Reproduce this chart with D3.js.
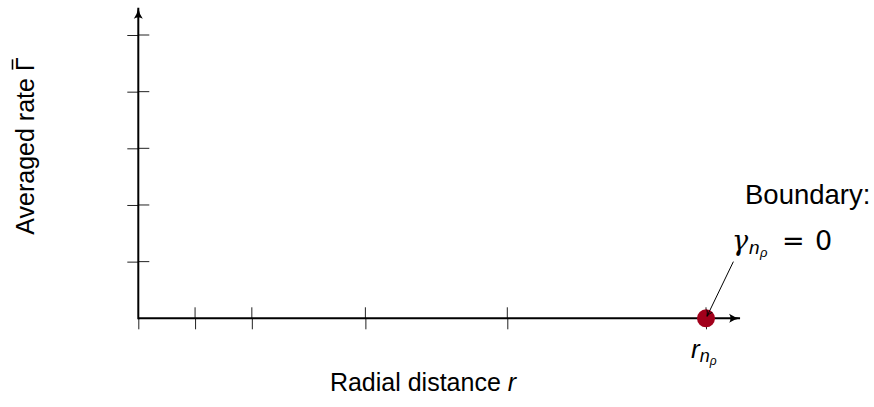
<!DOCTYPE html>
<html>
<head>
<meta charset="utf-8">
<script src="https://cdn.jsdelivr.net/npm/d3@7"></script>
<style>
  html, body { margin: 0; padding: 0; background: #fff; }
  svg { display: block; }
  text { font-family: "Liberation Sans", Arial, Helvetica, sans-serif; fill: #000; }
</style>
</head>
<body>
<svg id="chart" width="874" height="407"></svg>
<script>
// ---- data ----
const xTicks = [0, 1, 2, 4, 6.5, 10];
const yTicks = [1, 2, 3, 4, 5];
const xDomain = [0, 10.6];
const yDomain = [0, 5.5];
const boundaryPoint = [{ x: 10, y: 0 }];
const annotationFrom = { x: 10.5, y: 1.0 };
const xLabel = "Radial distance ";
const xLabelVar = "r";
const yLabel = "Averaged rate \u0393";
const boundaryText = "Boundary:";

const svg = d3.select("#chart");
const x = d3.scaleLinear().domain([0, 10]).range([138.3, 706]);
const y = d3.scaleLinear().domain([0, 5]).range([318.3, 35]);

const defs = svg.append("defs");
defs.append("marker").attr("id", "axArrow")
  .attr("viewBox", "0 0 12 10").attr("refX", 11).attr("refY", 5)
  .attr("markerWidth", 12).attr("markerHeight", 10).attr("markerUnits", "userSpaceOnUse")
  .attr("orient", "auto")
  .append("path").attr("d", "M0,0.5 Q5,4 11,5 Q5,6 0,9.5 Q3,5 0,0.5 Z").attr("fill", "#000");
defs.append("marker").attr("id", "smArrow")
  .attr("viewBox", "0 0 8 8").attr("refX", 7).attr("refY", 4)
  .attr("markerWidth", 7).attr("markerHeight", 7).attr("markerUnits", "userSpaceOnUse")
  .attr("orient", "auto")
  .append("path").attr("d", "M0,0.5 Q3,3 7,4 Q3,5 0,7.5").attr("fill", "none").attr("stroke", "#000").attr("stroke-width", 1);

// x ticks (lower half via axis)
const xAxis = d3.axisBottom(x).tickValues(xTicks).tickSize(11).tickFormat("");
const gx = svg.append("g").attr("transform", `translate(0,${y(0)})`).call(xAxis);
gx.select(".domain").remove();
gx.selectAll(".tick line").attr("stroke", "#222").attr("stroke-width", 1);
// upper half of x ticks (not at origin)
svg.append("g").selectAll("line").data(xTicks.filter(d => d > 0)).join("line")
  .attr("x1", d => x(d)).attr("x2", d => x(d))
  .attr("y1", y(0) - 11).attr("y2", y(0))
  .attr("stroke", "#222").attr("stroke-width", 1);

// y ticks
const yAxis = d3.axisLeft(y).tickValues(yTicks).tickSize(11).tickFormat("");
const gy = svg.append("g").attr("transform", `translate(${x(0)},0)`).call(yAxis);
gy.select(".domain").remove();
gy.selectAll(".tick line").attr("stroke", "#222").attr("stroke-width", 1);
svg.append("g").selectAll("line").data(yTicks).join("line")
  .attr("x1", x(0)).attr("x2", x(0) + 11)
  .attr("y1", d => y(d)).attr("y2", d => y(d))
  .attr("stroke", "#222").attr("stroke-width", 1);

// axis lines with arrows
svg.append("line")
  .attr("x1", x(0)).attr("y1", y(0)).attr("x2", x(xDomain[1])).attr("y2", y(0))
  .attr("stroke", "#000").attr("stroke-width", 2).attr("marker-end", "url(#axArrow)");
svg.append("line")
  .attr("x1", x(0)).attr("y1", y(0) + 1).attr("x2", x(0)).attr("y2", y(yDomain[1]) + 1)
  .attr("stroke", "#000").attr("stroke-width", 2).attr("marker-end", "url(#axArrow)");

// boundary point
svg.append("g").selectAll("circle").data(boundaryPoint).join("circle")
  .attr("cx", d => x(d.x)).attr("cy", d => y(d.y)).attr("r", 9)
  .attr("fill", "#a2001b");

// annotation line
svg.append("line")
  .attr("x1", x(annotationFrom.x) - 1).attr("y1", y(annotationFrom.y))
  .attr("x2", x(boundaryPoint[0].x) + 1).attr("y2", y(boundaryPoint[0].y) - 2)
  .attr("stroke", "#000").attr("stroke-width", 1).attr("marker-end", "url(#smArrow)");

// annotation text
svg.append("text").attr("x", 745).attr("y", 204)
  .attr("font-size", 27.5).text(boundaryText);

const g = svg.append("text").attr("y", 250).attr("font-size", 27);
g.append("tspan").attr("x", 732).attr("font-family", "DejaVu Serif").attr("font-style", "italic").text("\u03B3");
g.append("tspan").attr("x", 749).attr("font-size", 19).attr("font-style", "italic").attr("dy", 4).text("n");
g.append("tspan").attr("x", 760).attr("font-size", 13).attr("font-style", "italic").attr("dy", 3).text("\u03C1");
g.append("tspan").attr("x", 782).attr("dy", -7).attr("font-family", "DejaVu Sans").text("=");
g.append("tspan").attr("x", 815).attr("font-family", "DejaVu Sans").text("0");

// r_{n_rho} label under the dot
const rl = svg.append("text").attr("x", x(boundaryPoint[0].x) - 15).attr("y", 358).attr("font-size", 26);
rl.append("tspan").attr("font-style", "italic").text("r");
rl.append("tspan").attr("font-size", 18).attr("font-style", "italic").attr("dy", 4).text("n");
rl.append("tspan").attr("font-size", 12).attr("font-style", "italic").attr("dy", 3).text("\u03C1");

// axis labels
const xl = svg.append("text").attr("x", 423).attr("y", 391)
  .attr("text-anchor", "middle").attr("font-size", 25);
xl.append("tspan").text(xLabel);
xl.append("tspan").attr("font-style", "italic").text(xLabelVar);

const yg = svg.append("g").attr("transform", "translate(34,146) rotate(-90)");
const yt = yg.append("text")
  .attr("text-anchor", "middle").attr("font-size", 25)
  .text(yLabel);
// bar over the final Gamma
const n = yLabel.length;
const s = yt.node().getStartPositionOfChar(n - 1);
const e = yt.node().getEndPositionOfChar(n - 1);
yg.append("line")
  .attr("x1", s.x + 1.5).attr("x2", e.x - 2)
  .attr("y1", -21.5).attr("y2", -21.5)
  .attr("stroke", "#000").attr("stroke-width", 1.6);
</script>
</body>
</html>
